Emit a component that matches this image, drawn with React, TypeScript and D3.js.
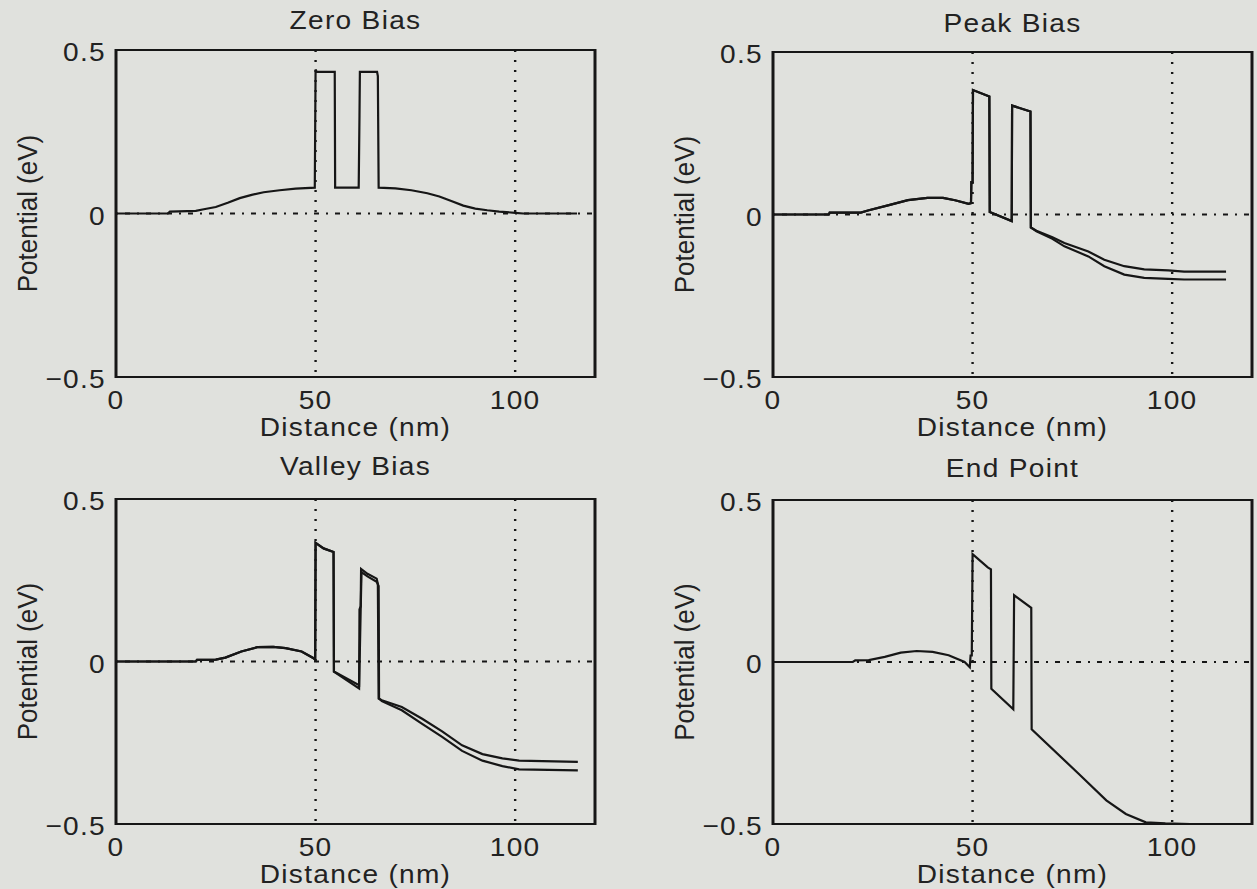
import React from 'react';
import * as d3 from 'd3';

const W = 1257;
const H = 889;

// axis ticks / grid
const xTicks = [0, 50, 100];
const yTicks = [-0.5, 0, 0.5];
const xGrid = [50, 100];
const yGrid = [0];
const titles = ['Zero Bias', 'Peak Bias', 'Valley Bias', 'End Point'];

// potential profiles [distance nm, potential eV]
const zeroBias: [number, number][] = [
  [0, 0], [13, 0], [13.5, 0.006], [20, 0.008], [22, 0.013], [25, 0.02], [28, 0.033], [31, 0.047],
  [34, 0.057], [37, 0.065], [41, 0.071], [45, 0.076], [49.8, 0.079], [50, 0.44], [50.3, 0.433],
  [54.8, 0.433], [54.9, 0.079], [60.8, 0.079], [61, 0.3], [61.1, 0.433], [65.4, 0.433], [65.6, 0.42],
  [65.8, 0.079], [70, 0.077], [74, 0.071], [78, 0.062], [81, 0.052], [84, 0.038], [87, 0.024],
  [90, 0.015], [93, 0.01], [96, 0.006], [100, 0.002], [102, 0], [115.5, 0],
];

const peakHead: [number, number][] = [
  [0, 0], [14, 0], [14.2, 0.006], [22, 0.006], [24, 0.013], [28.8, 0.028], [33.8, 0.044], [38.7, 0.051],
  [42.6, 0.051], [45.6, 0.044], [49, 0.033], [49.6, 0.035], [49.7, 0.1], [50, 0.1], [50.1, 0.383],
  [54.2, 0.363], [54.3, 0.008], [59.8, -0.02], [59.9, 0.335], [64.5, 0.317], [64.6, -0.04],
];
const peakTailA: [number, number][] = [
  [66, -0.05], [70, -0.07], [73, -0.088], [79, -0.114], [83, -0.139], [88, -0.159], [93, -0.169],
  [99, -0.172], [103, -0.176], [113.5, -0.176],
];
const peakTailB: [number, number][] = [
  [66, -0.052], [70, -0.075], [73, -0.098], [79, -0.129], [83, -0.159], [88, -0.185], [93, -0.195],
  [99, -0.198], [103, -0.2], [113.5, -0.2],
];

const valleyHead: [number, number][] = [
  [0, 0], [20, 0], [20.3, 0.005], [25, 0.006], [27.4, 0.012], [31.4, 0.031], [35.4, 0.044], [39.4, 0.045],
  [42.5, 0.041], [46.5, 0.031], [49.5, 0.01], [49.9, 0.005], [50, 0.365], [52, 0.348], [54.5, 0.337],
  [54.6, -0.031],
];
const valleyTailA: [number, number][] = [
  [60.9, -0.073], [61, 0.16], [61.3, 0.17], [61.4, 0.285], [63, 0.27], [65.3, 0.255], [65.6, 0.239],
  [65.8, -0.114], [66.6, -0.119], [71.6, -0.14], [76.7, -0.176], [81.7, -0.215], [86.7, -0.258],
  [91.8, -0.285], [96.8, -0.298], [101, -0.305], [115.7, -0.309],
];
const valleyTailB: [number, number][] = [
  [60.9, -0.083], [61.3, 0.16], [61.5, 0.275], [63, 0.262], [65.3, 0.245], [65.8, 0.232],
  [65.9, -0.114], [66.6, -0.122], [71.6, -0.15], [76.7, -0.192], [81.7, -0.232], [86.7, -0.275],
  [91.8, -0.305], [96.8, -0.322], [101, -0.332], [115.7, -0.335],
];

const endPoint: [number, number][] = [
  [0, 0], [20, 0], [20.6, 0.005], [24, 0.006], [28, 0.016], [32, 0.029], [36, 0.034], [40, 0.031],
  [44, 0.021], [48, 0], [49.3, -0.016], [49.5, 0.02], [49.8, 0.02], [50, 0.333], [53.8, 0.292],
  [54.6, 0.286], [54.7, -0.083], [60.2, -0.146], [60.4, 0.206], [64.7, 0.167], [64.8, -0.208],
  [76.5, -0.344], [83.5, -0.427], [88.4, -0.469], [93.4, -0.495], [98.3, -0.498], [104.5, -0.5],
];

const panelSeries: [number, number][][][] = [
  [zeroBias],
  [peakHead.concat(peakTailA), peakHead.concat(peakTailB)],
  [valleyHead.concat(valleyTailA), valleyHead.concat(valleyTailB)],
  [endPoint],
];

// layout (pixel boxes of the four axes)
const layout = [
  { left: 116, right: 595, top: 50, bottom: 377, titleY: 29 },
  { left: 773, right: 1252, top: 52, bottom: 377, titleY: 32 },
  { left: 116, right: 595, top: 499, bottom: 824, titleY: 475 },
  { left: 773, right: 1252, top: 500, bottom: 824, titleY: 477 },
];

const SX = 1.08; // original print is slightly stretched horizontally
const FONT = "'Liberation Sans', Arial, Helvetica, sans-serif";
const INK = '#161616';
const TEXT_INK = '#222';

const Txt = ({ x, y, anchor = 'middle', rotate = 0, children }: any) => (
  <text
    transform={`translate(${x},${y}) scale(${SX},1)${rotate ? ` rotate(${rotate})` : ''}`}
    textAnchor={anchor}
    fontFamily={FONT}
    fontSize={26}
    letterSpacing={rotate ? 0 : 1.2}
    fill={TEXT_INK}
  >
    {children}
  </text>
);

const fmt = (v: number) => (v === 0 ? '0' : v < 0 ? '\u2212' + Math.abs(v) : String(v));

const Panel = ({ idx }: { idx: number }) => {
  const b = layout[idx];
  const x = d3.scaleLinear().domain([0, 120]).range([b.left, b.right]);
  const y = d3.scaleLinear().domain([-0.5, 0.5]).range([b.bottom, b.top]);
  const line = d3.line<[number, number]>().x(d => x(d[0])).y(d => y(d[1]));
  const midX = (b.left + b.right) / 2;
  const midY = (b.top + b.bottom) / 2;

  return (
    <g>
      {xGrid.map(g => (
        <line key={'gx' + g} x1={x(g)} x2={x(g)} y1={b.top} y2={b.bottom}
          stroke={INK} strokeWidth={2.4} strokeDasharray="2,8" />
      ))}
      {yGrid.map(g => (
        <line key={'gy' + g} x1={b.left} x2={b.right} y1={y(g)} y2={y(g)}
          stroke={INK} strokeWidth={2} strokeDasharray="2,7,5,7" />
      ))}
      {panelSeries[idx].map((s, i) => (
        <path key={i} d={line(s) || ''} fill="none" stroke={INK} strokeWidth={2.2} strokeLinejoin="miter" />
      ))}
      <line x1={b.left} x2={b.right} y1={b.top} y2={b.top} stroke={INK} strokeWidth={2} />
      <line x1={b.left} x2={b.right} y1={b.bottom} y2={b.bottom} stroke={INK} strokeWidth={2} />
      <line x1={b.left} x2={b.left} y1={b.top - 1} y2={b.bottom + 1} stroke={INK} strokeWidth={3} />
      <line x1={b.right} x2={b.right} y1={b.top - 1} y2={b.bottom + 1} stroke={INK} strokeWidth={3} />

      {yTicks.map(t => (
        <Txt key={'yt' + t} x={b.left - 10} y={y(t) + 11} anchor="end">{fmt(t)}</Txt>
      ))}
      {xTicks.map(t => (
        <Txt key={'xt' + t} x={x(t)} y={b.bottom + 32}>{fmt(t)}</Txt>
      ))}
      <Txt x={midX} y={b.titleY}>{titles[idx]}</Txt>
      <Txt x={midX} y={b.bottom + 59}>Distance (nm)</Txt>
      <Txt x={b.left - 79} y={midY} rotate={-90}>Potential (eV)</Txt>
    </g>
  );
};

export default function App() {
  return (
    <div style={{ position: 'absolute', left: 0, top: 0 }}>
      <svg width={W} height={H} style={{ display: 'block', background: '#e0e1dd' }}>
        <rect width={W} height={H} fill="#e0e1dd" />
        {layout.map((_, i) => <Panel key={i} idx={i} />)}
      </svg>
    </div>
  );
}
